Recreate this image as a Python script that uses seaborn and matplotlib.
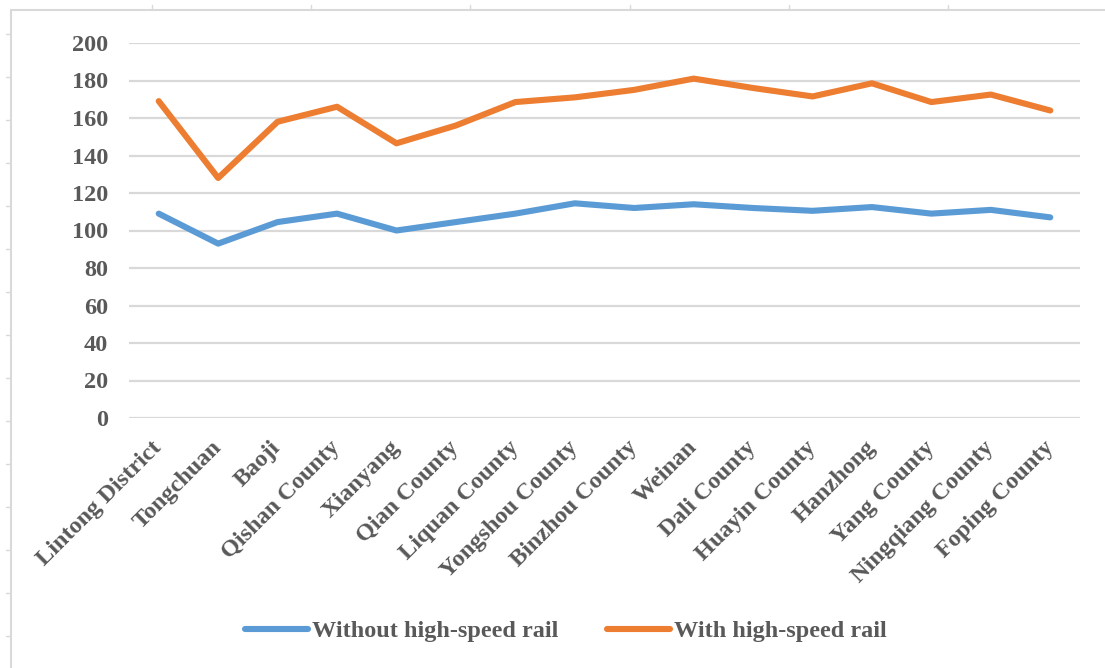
import matplotlib
matplotlib.use("Agg")
import matplotlib.pyplot as plt
from matplotlib.lines import Line2D
import seaborn as sns
import pandas as pd

# Chart data
regions = ["Lintong District", "Tongchuan", "Baoji", "Qishan County", "Xianyang",
           "Qian County", "Liquan County", "Yongshou County", "Binzhou County", "Weinan",
           "Dali County", "Huayin County", "Hanzhong", "Yang County", "Ningqiang County",
           "Foping County"]
without_hsr = [109, 93, 104.5, 109, 100, 104.5, 109, 114.5, 112, 114, 112, 110.5, 112.5, 109, 111, 107]
with_hsr = [169, 128, 158, 166, 146.5, 156, 168.5, 171, 175, 181, 176, 171.5, 178.5, 168.5, 172.5, 164]
series_names = ["Without high-speed rail", "With high-speed rail"]

df = pd.DataFrame({
    "region": regions * 2,
    "pos": list(range(len(regions))) * 2,
    "value": without_hsr + with_hsr,
    "series": [series_names[0]] * len(regions) + [series_names[1]] * len(regions),
})

sns.set_style("white")
plt.rcParams["font.family"] = ["Liberation Serif", "DejaVu Serif"]
plt.rcParams["font.weight"] = "bold"

text_grey = "#595959"
grid_grey = "#D9D9D9"
palette = {series_names[0]: "#5B9BD5", series_names[1]: "#ED7D31"}
fs = 17.5

fig = plt.figure(figsize=(11.05, 6.68), dpi=100)
ax = fig.add_axes([129 / 1105, 1 - 418 / 668, (1080 - 129) / 1105, (418 - 43) / 668])

sns.lineplot(data=df, x="pos", y="value", hue="series", palette=palette,
             linewidth=4.4, ax=ax, legend=False, solid_capstyle="round")

ax.set_xlim(-0.5, len(regions) - 0.5)
ax.set_ylim(0, 200)
ax.set_yticks(range(0, 201, 20))
ax.set_xticks(range(len(regions)))
ax.set_xticklabels(regions, rotation=45, ha="right", va="center",
                   rotation_mode="anchor", fontsize=fs, color=text_grey, fontweight="bold")
for lab in ax.get_yticklabels():
    lab.set_fontsize(fs)
    lab.set_color(text_grey)
    lab.set_fontweight("bold")
ax.tick_params(axis="both", length=0)
ax.tick_params(axis="x", pad=19)
ax.tick_params(axis="y", pad=15)
ax.grid(axis="y", color=grid_grey, linewidth=1.6)
ax.set_axisbelow(True)
for s in ax.spines.values():
    s.set_visible(False)
ax.set_xlabel("")
ax.set_ylabel("")

# legend at the bottom
handles = [Line2D([0], [0], color=palette[n], linewidth=4.4, solid_capstyle="round") for n in series_names]
leg = fig.legend(handles, series_names, loc="center", bbox_to_anchor=(566 / 1105, 1 - 631 / 668),
                 ncol=2, frameon=False, fontsize=fs, handlelength=2.6, handletextpad=0.15,
                 columnspacing=2.0)
for t in leg.get_texts():
    t.set_color(text_grey)
    t.set_fontweight("bold")

# outer chart frame partly visible at the edges of the crop
W, H = 1105, 668
fig.add_artist(Line2D([11 / W, 11 / W], [0, 1 - 10 / H], transform=fig.transFigure,
                      color=grid_grey, linewidth=1.5))
fig.add_artist(Line2D([11 / W, 1], [1 - 10 / H, 1 - 10 / H], transform=fig.transFigure,
                      color=grid_grey, linewidth=1.5))
for x in [152, 311, 470, 630, 789, 948]:
    fig.add_artist(Line2D([x / W, x / W], [1 - 10 / H, 1 - 5 / H], transform=fig.transFigure,
                          color=grid_grey, linewidth=1))
for y in range(34, 668, 43):
    fig.add_artist(Line2D([6 / W, 11 / W], [1 - y / H, 1 - y / H], transform=fig.transFigure,
                          color=grid_grey, linewidth=1))

fig.savefig("out.png", dpi=100, facecolor="white")
